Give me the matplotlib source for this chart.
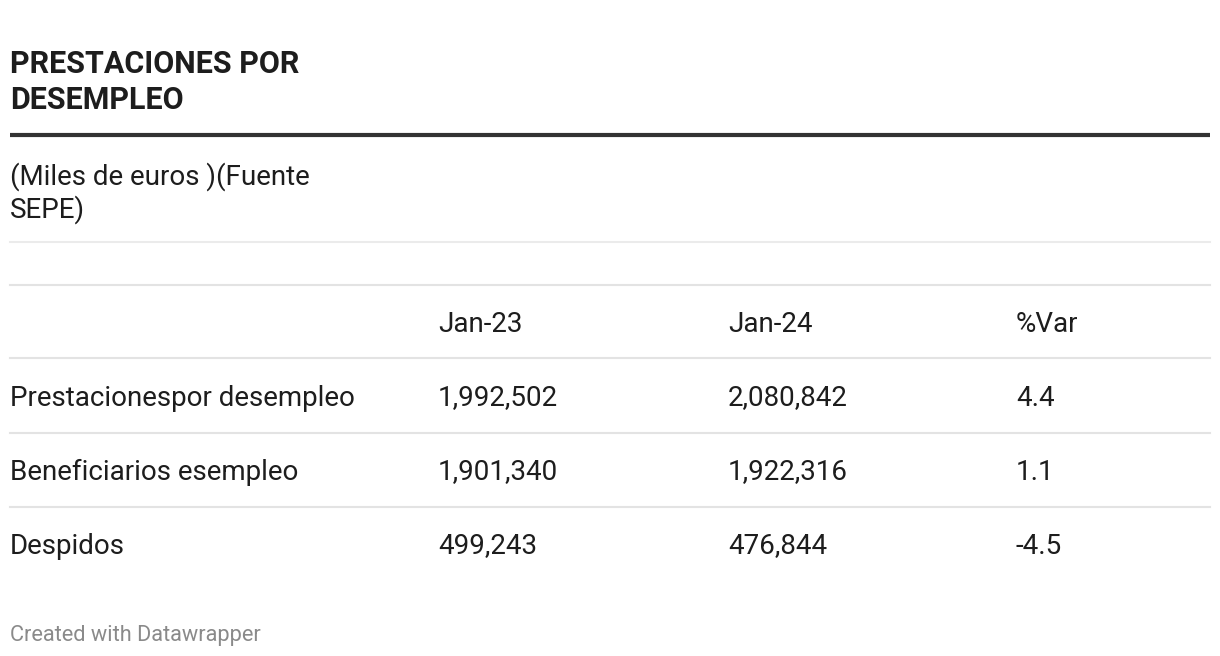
import matplotlib
matplotlib.use("Agg")
import matplotlib.pyplot as plt

plt.rcParams['font.family'] = ['Roboto', 'DejaVu Sans']

title = "PRESTACIONES POR\nDESEMPLEO"
subtitle = "(Miles de euros )(Fuente\nSEPE)"
columns = ["", "Jan-23", "Jan-24", "%Var"]
rows = ["Prestacionespor desempleo", "Beneficiarios esempleo", "Despidos"]
jan23 = ["1,992,502", "1,901,340", "499,243"]
jan24 = ["2,080,842", "1,922,316", "476,844"]
var = ["4.4", "1.1", "-4.5"]
footer = "Created with Datawrapper"

W, H = 1220, 656
fig = plt.figure(figsize=(W / 100, H / 100), dpi=100)
ax = fig.add_axes([0, 0, 1, 1])
ax.set_xlim(0, W)
ax.set_ylim(H, 0)
ax.axis('off')

left, right = 10, 1210
col_x = [10, 438, 728, 1016]
txt = '#1d1d1d'

# header block
ax.text(left, 82, title, fontsize=22, fontweight='bold', color=txt,
        va='center', linespacing=1.26)
ax.plot([left, right], [135, 135], color='#333333', lw=3, solid_capstyle='butt')
ax.text(left, 193, subtitle, fontsize=20, color=txt, va='center',
        linespacing=1.18)
ax.plot([left, right], [242, 242], color='#ebebeb', lw=1.5)

# table
header_y = 324
row_h = 74
ax.plot([left, right], [285, 285], color='#e3e3e3', lw=1.5)
for x, c in zip(col_x, columns):
    ax.text(x, header_y, c, fontsize=20, color=txt, va='center')
ax.plot([left, right], [358, 358], color='#e3e3e3', lw=1.5)

for i, name in enumerate(rows):
    y = header_y + row_h * (i + 1)
    vals = [name, jan23[i], jan24[i], var[i]]
    for x, v in zip(col_x, vals):
        ax.text(x, y, v, fontsize=20, color=txt, va='center')
    if i < len(rows) - 1:
        ax.plot([left, right], [y + 35, y + 35], color='#e3e3e3', lw=1.5)

ax.text(left, 635, footer, fontsize=15.7, color='#8a8a8a', va='center')

fig.savefig("out.png", dpi=100, facecolor='white')
